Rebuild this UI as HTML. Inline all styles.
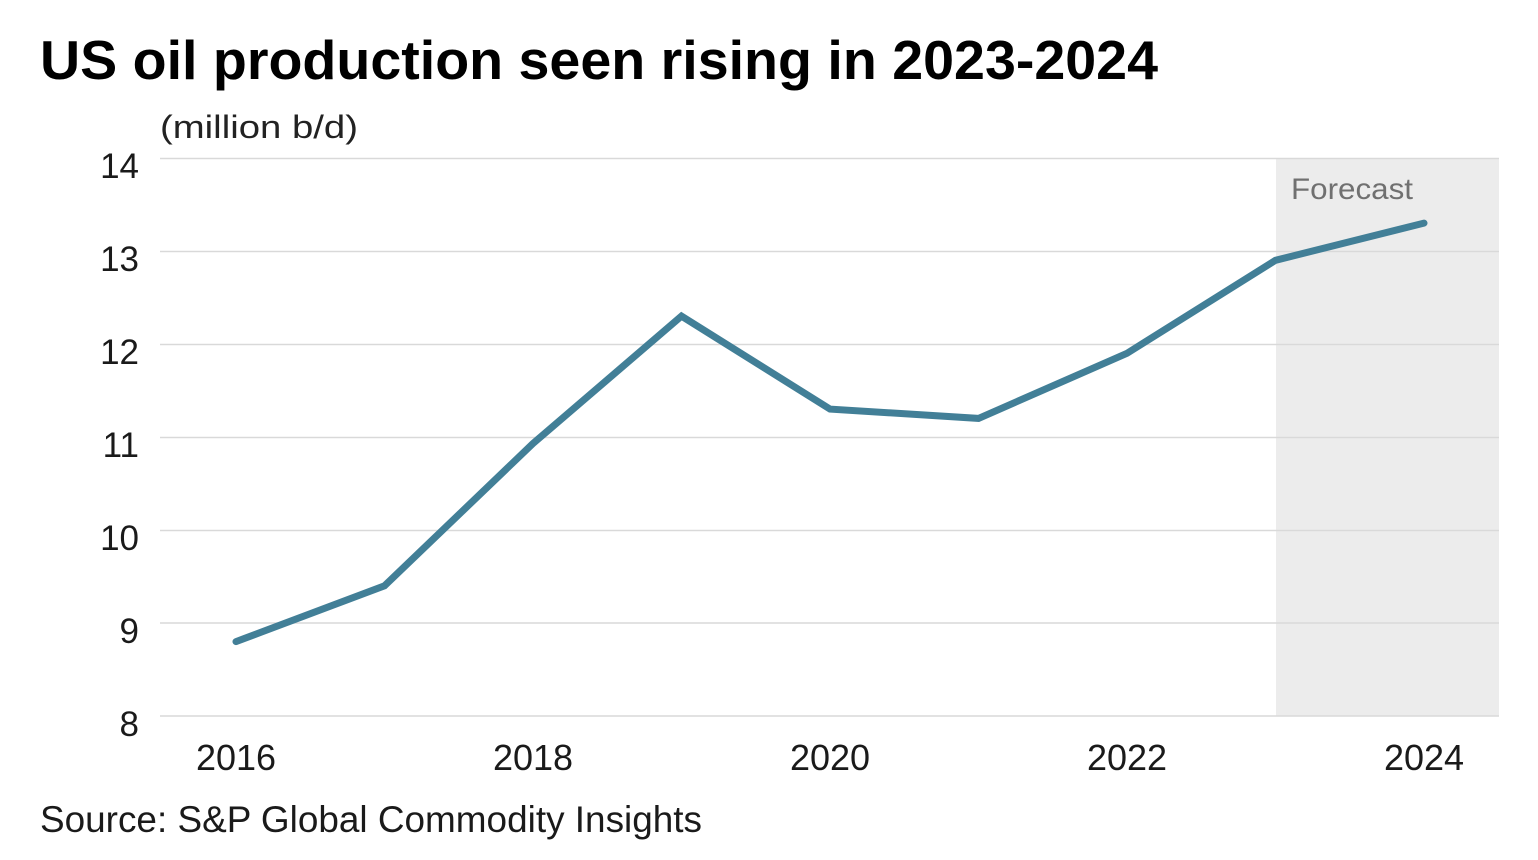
<!DOCTYPE html>
<html>
<head>
<meta charset="utf-8">
<style>
  html, body { margin: 0; padding: 0; background: #ffffff; }
  svg { display: block; }
  text { font-family: "Liberation Sans", "DejaVu Sans", sans-serif; }
</style>
</head>
<body>
<svg width="1538" height="860" viewBox="0 0 1538 860" xmlns="http://www.w3.org/2000/svg">
  <rect x="0" y="0" width="1538" height="860" fill="#ffffff"/>

  <!-- Title -->
  <text x="40" y="79" font-size="55" font-weight="bold" fill="#000" textLength="1118" lengthAdjust="spacingAndGlyphs">US oil production seen rising in 2023-2024</text>

  <!-- Unit label -->
  <text x="160" y="138" font-size="32" fill="#222" textLength="198" lengthAdjust="spacingAndGlyphs">(million b/d)</text>

  <!-- Forecast shading -->
  <rect x="1276" y="158" width="223" height="558" fill="#ececec"/>
  <text x="1291" y="199" font-size="30" fill="#707070" textLength="122" lengthAdjust="spacingAndGlyphs">Forecast</text>

  <!-- Gridlines -->
  <g stroke="#d9d9d9" stroke-width="1.5">
    <line x1="160" y1="158.5" x2="1499" y2="158.5"/>
    <line x1="160" y1="251.5" x2="1499" y2="251.5"/>
    <line x1="160" y1="344.5" x2="1499" y2="344.5"/>
    <line x1="160" y1="437.5" x2="1499" y2="437.5"/>
    <line x1="160" y1="530.5" x2="1499" y2="530.5"/>
    <line x1="160" y1="623" x2="1499" y2="623"/>
    <line x1="160" y1="716" x2="1499" y2="716"/>
  </g>

  <!-- Y axis labels -->
  <g font-size="35" fill="#1a1a1a" text-anchor="end">
    <text x="139" y="178">14</text>
    <text x="139" y="271">13</text>
    <text x="139" y="364">12</text>
    <text x="139" y="457">11</text>
    <text x="139" y="550">10</text>
    <text x="139" y="643">9</text>
    <text x="139" y="736">8</text>
  </g>

  <!-- X axis labels -->
  <g font-size="36" fill="#1a1a1a" text-anchor="middle">
    <text x="236" y="770">2016</text>
    <text x="533" y="770">2018</text>
    <text x="830" y="770">2020</text>
    <text x="1127" y="770">2022</text>
    <text x="1424" y="770">2024</text>
  </g>

  <!-- Data line -->
  <polyline fill="none" stroke="#427f97" stroke-width="7" stroke-linecap="round" stroke-linejoin="miter"
    points="236,641.6 384.5,585.8 533,443.5 681.5,316.1 830,409.1 978.5,418.4 1127,353.3 1275.5,260.3 1424,223.1"/>

  <!-- Source -->
  <text x="40" y="832" font-size="37" fill="#1a1a1a" textLength="662" lengthAdjust="spacingAndGlyphs">Source: S&amp;P Global Commodity Insights</text>
</svg>
</body>
</html>
